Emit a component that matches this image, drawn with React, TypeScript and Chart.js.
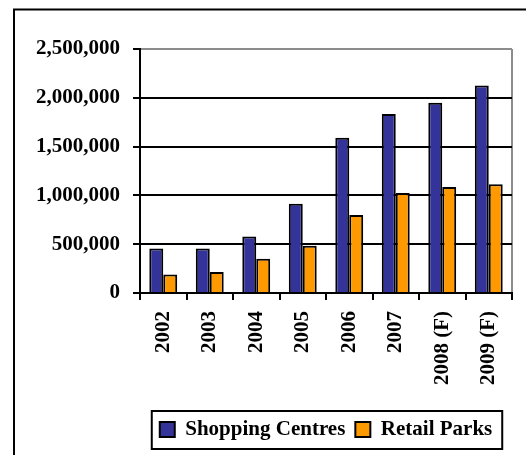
import React, { useEffect, useRef } from "react";
import { Chart, registerables } from "chart.js";

Chart.register(...registerables);

const categories = ["2002", "2003", "2004", "2005", "2006", "2007", "2008 (F)", "2009 (F)"];
const shoppingCentres = [455000, 455000, 580000, 915000, 1590000, 1835000, 1950000, 2125000];
const retailParks = [190000, 215000, 350000, 485000, 800000, 1025000, 1085000, 1115000];
const yTicks = [0, 500000, 1000000, 1500000, 2000000, 2500000];

const FONT = "'Liberation Serif', 'Times New Roman', serif";

const framePlugin = {
  id: "framePlugin",
  beforeDraw(chart: any) {
    const ctx = chart.ctx;
    ctx.save();
    ctx.fillStyle = "#ffffff";
    ctx.fillRect(0, 0, chart.width, chart.height);
    ctx.strokeStyle = "#000000";
    ctx.lineWidth = 2;
    ctx.strokeRect(14, 9.5, 700, 700);
    ctx.restore();
  },
  afterDraw(chart: any) {
    const legend = chart.legend;
    if (!legend || !legend.legendHitBoxes || !legend.legendHitBoxes.length) return;
    const boxes = legend.legendHitBoxes;
    const first = boxes[0];
    const last = boxes[boxes.length - 1];
    const left = first.left - 8;
    const right = last.left + last.width + 10;
    const top = first.top - 8;
    const bottom = first.top + first.height + 9;
    const ctx = chart.ctx;
    ctx.save();
    ctx.strokeStyle = "#000000";
    ctx.lineWidth = 2;
    ctx.strokeRect(left, top, right - left, bottom - top);
    ctx.restore();
  },
};

export default function App() {
  const canvasRef = useRef<HTMLCanvasElement | null>(null);

  useEffect(() => {
    if (!canvasRef.current) return;
    const chart = new Chart(canvasRef.current, {
      type: "bar",
      data: {
        labels: categories,
        datasets: [
          {
            label: "Shopping Centres",
            data: shoppingCentres,
            backgroundColor: "#333399",
            borderColor: "#000000",
            borderWidth: 2,
          },
          {
            label: "Retail Parks",
            data: retailParks,
            backgroundColor: "#FF9900",
            borderColor: "#000000",
            borderWidth: 2,
          },
        ],
      },
      options: {
        responsive: false,
        animation: false,
        layout: { padding: { top: 49, right: 14, left: 0, bottom: 5 } },
        datasets: {
          bar: { categoryPercentage: 0.6, barPercentage: 1.0 },
        },
        plugins: {
          tooltip: { enabled: false },
          legend: {
            position: "bottom",
            fullSize: false,
            labels: {
              color: "#000000",
              font: { family: FONT, size: 21, weight: "bold" },
              boxWidth: 15,
              boxHeight: 15,
              padding: 10,
            },
          },
        },
        scales: {
          x: {
            afterFit(scale: any) {
              scale.height = 116;
            },
            grid: {
              offset: true,
              drawOnChartArea: true,
              color: (ctx: any) => (ctx.tick ? "rgba(0,0,0,0)" : "#8c8c8c"),
              lineWidth: 2,
              tickColor: "#000000",
              tickLength: 7,
            },
            border: { color: "#000000", width: 2 },
            ticks: {
              color: "#000000",
              font: { family: FONT, size: 21, weight: "bold" },
              minRotation: 90,
              maxRotation: 90,
              padding: 11,
              autoSkip: false,
            },
          },
          y: {
            min: 0,
            max: 2500000,
            afterFit(scale: any) {
              scale.width = 140;
            },
            afterBuildTicks(scale: any) {
              scale.ticks = yTicks.map((v) => ({ value: v }));
            },
            grid: {
              color: (ctx: any) => (ctx.tick && ctx.tick.value === 2500000 ? "#8c8c8c" : "#000000"),
              lineWidth: 2,
              tickColor: "#000000",
              tickLength: 7,
            },
            border: { color: "#000000", width: 2 },
            ticks: {
              color: "#000000",
              font: { family: FONT, size: 21, weight: "bold" },
              padding: 13,
              callback: (v: any) => Number(v).toLocaleString("en-US"),
            },
          },
        },
      },
      plugins: [framePlugin],
    });
    return () => chart.destroy();
  }, []);

  return (
    <div style={{ position: "absolute", left: 0, top: 0, width: 526, height: 455 }}>
      <canvas ref={canvasRef} width={526} height={455} />
    </div>
  );
}
